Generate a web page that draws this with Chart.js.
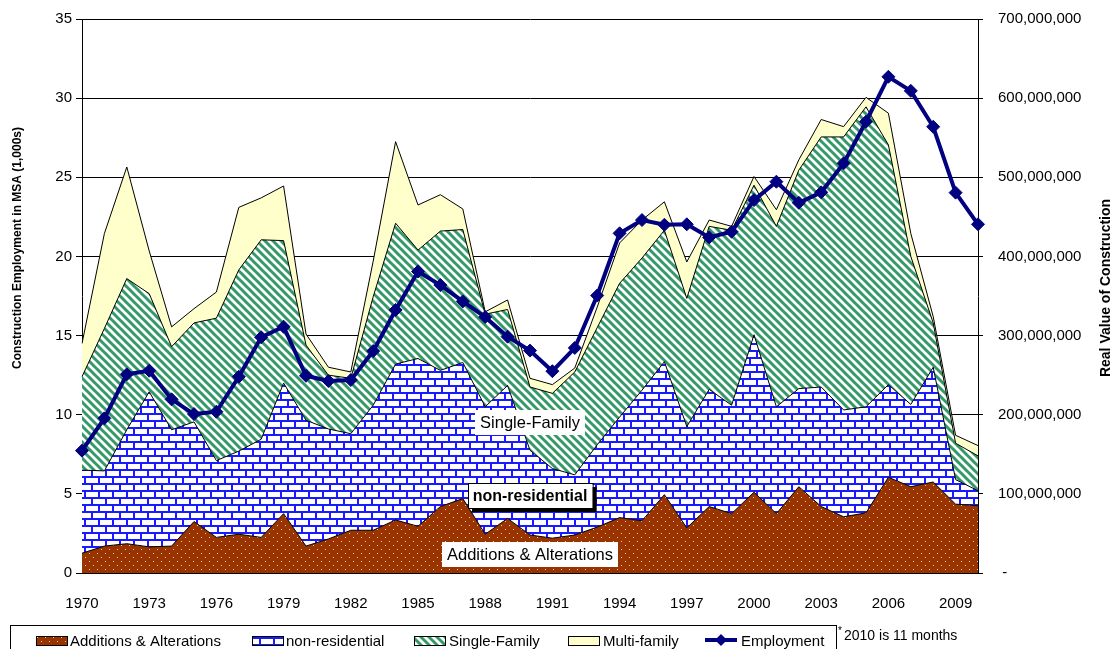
<!DOCTYPE html>
<html>
<head>
<meta charset="utf-8">
<script src="https://cdn.jsdelivr.net/npm/chart.js@4.4.0/dist/chart.umd.min.js"></script>
<style>
html, body { margin: 0; padding: 0; background: #fff; }
#wrap { position: relative; width: 1117px; height: 649px; overflow: hidden; }
</style>
</head>
<body>
<div id="wrap"><canvas id="mycanvas" width="1117" height="649"></canvas></div>
<script>
// years on the category axis
var years = [1970, 1971, 1972, 1973, 1974, 1975, 1976, 1977, 1978, 1979,
	1980, 1981, 1982, 1983, 1984, 1985, 1986, 1987, 1988, 1989,
	1990, 1991, 1992, 1993, 1994, 1995, 1996, 1997, 1998, 1999,
	2000, 2001, 2002, 2003, 2004, 2005, 2006, 2007, 2008, 2009, 2010];

// real value of construction, millions of dollars (stacked, right axis)
var additions = [25, 34, 37, 33, 34, 65, 45, 49, 45, 75,
	34, 43, 54, 54, 67, 59, 84, 94, 49, 69,
	48, 44, 48, 58, 70, 66, 99, 57, 84, 75,
	102, 75, 109, 84, 71, 76, 121, 109, 115, 87, 85];
var nonResidential = [105, 95, 144, 196, 147, 126, 97, 105, 124, 165,
	159, 139, 122, 158, 197, 212, 172, 172, 161, 168,
	107, 88, 76, 104, 127, 165, 168, 128, 148, 137,
	199, 135, 124, 151, 135, 134, 117, 104, 145, 31, 19];
var singleFamily = [118, 180, 191, 124, 105, 125, 180, 229, 252, 180,
	95, 68, 70, 137, 178, 137, 176, 168, 117, 96,
	80, 95, 130, 148, 169, 167, 166, 162, 206, 221,
	189, 228, 276, 316, 345, 379, 303, 187, 56, 46, 44];
var multiFamily = [42, 120, 141, 54, 25, 18, 33, 79, 53, 69,
	14, 10, 8, 45, 103, 57, 46, 26, 3, 12,
	11, 11, 5, 26, 51, 48, 36, 46, 8, 5,
	11, 21, 13, 22, 13, 12, 40, 29, 8, 10, 13];

// construction employment in MSA, thousands (left axis)
var employment = [7.73, 9.77, 12.55, 12.78, 10.97, 10.04, 10.19, 12.4, 14.89, 15.56,
	12.46, 12.13, 12.19, 14.02, 16.62, 19.05, 18.19, 17.16, 16.17, 14.93,
	14.05, 12.75, 14.22, 17.53, 21.46, 22.3, 22.0, 22.03, 21.2, 21.56,
	23.56, 24.72, 23.39, 24.05, 25.88, 28.51, 31.35, 30.46, 28.19, 24.03, 22.03];

var FONT = "'Liberation Sans', Arial, sans-serif";
Chart.defaults.font.family = FONT;
Chart.defaults.color = '#000';

function makePattern(w, h, draw) {
	var c = document.createElement('canvas');
	c.width = w; c.height = h;
	var g = c.getContext('2d');
	draw(g);
	return g.createPattern(c, 'repeat');
}

var dotPat = makePattern(8, 8, function(g) {
	g.fillStyle = '#993300';
	g.fillRect(0, 0, 8, 8);
	g.fillStyle = '#f2d2a0';
	g.fillRect(1, 1, 1, 1);
	g.fillRect(5, 5, 1, 1);
});
var brickPat = makePattern(14, 14, function(g) {
	g.fillStyle = '#fff';
	g.fillRect(0, 0, 14, 14);
	g.fillStyle = '#1a1aff';
	g.fillRect(0, 0, 14, 2);
	g.fillRect(0, 7, 14, 2);
	g.fillRect(0, 0, 2, 7);
	g.fillRect(7, 7, 2, 7);
});
var stripePat = makePattern(8, 8, function(g) {
	g.fillStyle = '#fff';
	g.fillRect(0, 0, 8, 8);
	g.strokeStyle = '#339966';
	g.lineWidth = 3;
	for (var k = -1; k <= 1; k++) {
		g.beginPath();
		g.moveTo(k * 8 - 1, -1);
		g.lineTo(k * 8 + 9, 9);
		g.stroke();
	}
});
var yellow = '#ffffcc';

function fmt(v) {
	return String(Math.round(v * 1000000)).replace(/\B(?=(\d{3})+(?!\d))/g, ',');
}

function labelBox(ctx, text, cx, cy, font, opts) {
	ctx.font = font;
	var w = ctx.measureText(text).width + 10;
	var h = 25;
	var x = Math.round(cx - w / 2), y = Math.round(cy - h / 2);
	if (opts.shadow) {
		ctx.fillStyle = '#000';
		ctx.fillRect(x + 4, y + 4, w, h);
	}
	ctx.fillStyle = '#fff';
	ctx.fillRect(x, y, w, h);
	if (opts.border) {
		ctx.strokeStyle = '#000';
		ctx.lineWidth = 1;
		ctx.strokeRect(x + 0.5, y + 0.5, w, h);
	}
	ctx.fillStyle = '#000';
	ctx.textAlign = 'center';
	ctx.textBaseline = 'middle';
	ctx.fillText(text, cx, cy + 1);
}

var extras = {
	id: 'extras',
	afterDatasetsDraw: function(chart) {
		var ctx = chart.ctx;
		var xs = chart.scales.x, yr = chart.scales.yR;
		var cx = xs.getPixelForValue(20);
		ctx.save();
		labelBox(ctx, 'Single-Family', cx, yr.getPixelForValue(190), '16.5px ' + FONT, {});
		labelBox(ctx, 'non-residential', cx, yr.getPixelForValue(98), 'bold 16px ' + FONT, {border: true, shadow: true});
		labelBox(ctx, 'Additions & Alterations', cx, yr.getPixelForValue(23), '16.5px ' + FONT, {});
		ctx.restore();
	},
	afterDraw: function(chart) {
		var ctx = chart.ctx;
		ctx.save();
		// axis titles
		ctx.fillStyle = '#000';
		ctx.textAlign = 'center';
		ctx.textBaseline = 'middle';
		ctx.font = 'bold 12px ' + FONT;
		ctx.translate(18, 248);
		ctx.rotate(-Math.PI / 2);
		ctx.fillText('Construction Employment in MSA (1,000s)', 0, 0);
		ctx.setTransform(1, 0, 0, 1, 0, 0);
		ctx.font = 'bold 14px ' + FONT;
		ctx.translate(1106, 288);
		ctx.rotate(-Math.PI / 2);
		ctx.fillText('Real Value of Construction', 0, 0);
		ctx.setTransform(1, 0, 0, 1, 0, 0);

		// legend
		ctx.strokeStyle = '#000';
		ctx.lineWidth = 1;
		ctx.strokeRect(10.5, 625.5, 826, 40);
		var items = [
			{x: 36, tx: 70, fill: dotPat, text: 'Additions & Alterations'},
			{x: 252, tx: 286, fill: brickPat, text: 'non-residential'},
			{x: 414, tx: 449, fill: stripePat, text: 'Single-Family'},
			{x: 568, tx: 603, fill: yellow, text: 'Multi-family'}
		];
		ctx.font = '15px ' + FONT;
		ctx.textAlign = 'left';
		ctx.textBaseline = 'middle';
		items.forEach(function(it) {
			ctx.fillStyle = it.fill;
			ctx.fillRect(it.x, 636, 31, 9);
			ctx.strokeRect(it.x + 0.5, 636.5, 31, 9);
			ctx.fillStyle = '#000';
			ctx.fillText(it.text, it.tx, 642);
		});
		ctx.strokeStyle = '#000080';
		ctx.lineWidth = 4;
		ctx.beginPath();
		ctx.moveTo(705, 640);
		ctx.lineTo(737, 640);
		ctx.stroke();
		ctx.fillStyle = '#000080';
		ctx.beginPath();
		ctx.moveTo(721, 634); ctx.lineTo(727, 640); ctx.lineTo(721, 646); ctx.lineTo(715, 640);
		ctx.closePath();
		ctx.fill();
		ctx.fillStyle = '#000';
		ctx.fillText('Employment', 741, 642);
		ctx.font = '14px ' + FONT;
		ctx.fillText('2010 is 11 months', 844, 636);
		ctx.font = '10px ' + FONT;
		ctx.fillText('*', 838, 631);
		ctx.restore();
	}
};

function areaSet(label, data, fill, bg) {
	return {
		label: label,
		data: data,
		yAxisID: 'yR',
		backgroundColor: bg,
		borderColor: '#000',
		borderWidth: 1,
		fill: fill,
		pointRadius: 0,
		tension: 0,
		order: 1
	};
}

var ctx = document.getElementById('mycanvas');
var chart = new Chart(ctx, {
	type: 'line',
	data: {
		labels: years.map(String),
		datasets: [
			areaSet('Additions & Alterations', additions, 'origin', dotPat),
			areaSet('non-residential', nonResidential, '-1', brickPat),
			areaSet('Single-Family', singleFamily, '-1', stripePat),
			areaSet('Multi-family', multiFamily, '-1', yellow),
			{
				label: 'Employment',
				data: employment,
				yAxisID: 'yL',
				borderColor: '#000080',
				borderWidth: 4,
				pointStyle: 'rectRot',
				pointRadius: 6.5,
				pointBackgroundColor: '#000080',
				pointBorderColor: '#000080',
				pointBorderWidth: 1,
				fill: false,
				tension: 0,
				order: 0
			}
		]
	},
	options: {
		responsive: false,
		animation: false,
		layout: { padding: { top: 19, left: 0, right: 0, bottom: 0 } },
		plugins: {
			legend: { display: false },
			tooltip: { enabled: false }
		},
		scales: {
			x: {
				type: 'category',
				offset: false,
				grid: { display: false, drawTicks: false },
				border: { color: '#000', width: 1 },
				ticks: {
					autoSkip: false,
					maxRotation: 0,
					padding: 22,
					font: { size: 15 },
					color: '#000',
					callback: function(v, i) { return i % 3 === 0 ? String(years[i]) : ''; }
				},
				afterFit: function(s) { s.height = 76; }
			},
			yL: {
				position: 'left',
				min: 0,
				max: 35,
				ticks: { stepSize: 5, padding: 4, font: { size: 15 }, color: '#000' },
				grid: { color: '#000', lineWidth: 1, tickLength: 6 },
				border: { color: '#000', width: 1 },
				afterFit: function(s) { s.width = 82; s.paddingTop = 0; s.paddingBottom = 0; }
			},
			yR: {
				position: 'right',
				stacked: true,
				min: 0,
				max: 700,
				ticks: {
					stepSize: 100,
					padding: 15,
					font: { size: 15 },
					color: '#000',
					callback: function(v) { return v === 0 ? ' -' : fmt(v); }
				},
				grid: { drawOnChartArea: false, color: '#000', tickLength: 5 },
				border: { color: '#000', width: 1 },
				afterFit: function(s) { s.width = 139; s.paddingTop = 0; s.paddingBottom = 0; }
			}
		}
	},
	plugins: [extras]
});
</script>
</body>
</html>
